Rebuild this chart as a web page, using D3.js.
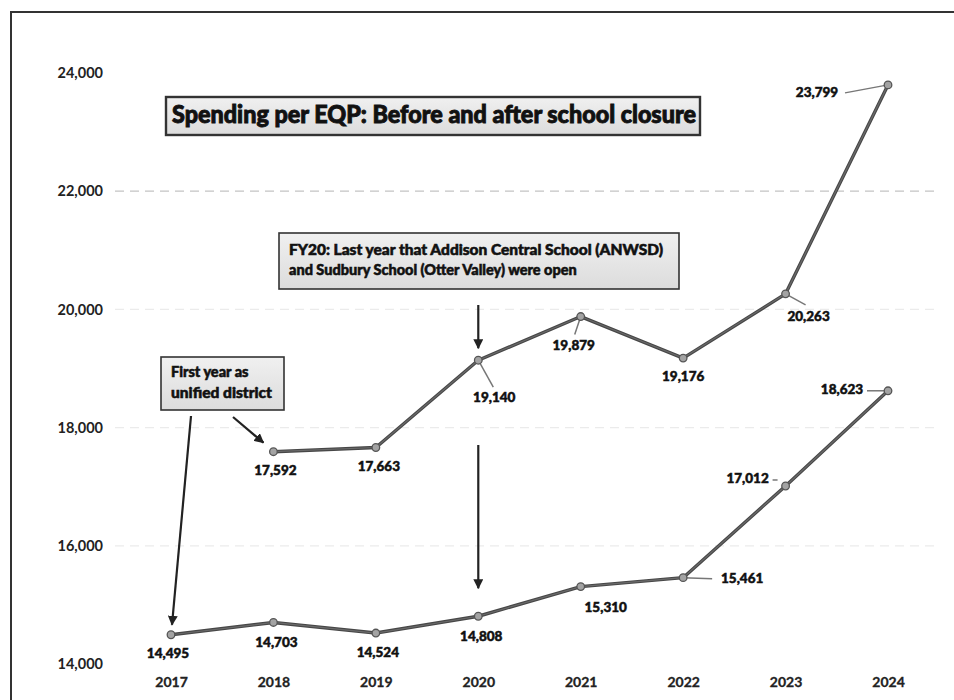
<!DOCTYPE html>
<html>
<head>
<meta charset="utf-8">
<script src="https://cdn.jsdelivr.net/npm/d3@7"></script>
<style>
  body { margin: 0; background: #fff; }
  svg { display: block; font-family: Lato, "Open Sans", sans-serif; }
</style>
</head>
<body>
<svg id="chart" width="954" height="700"></svg>
<script>
// Data
const years = [2017, 2018, 2019, 2020, 2021, 2022, 2023, 2024];
const afterClosure = [null, 17592, 17663, 19140, 19879, 19176, 20263, 23799];
const beforeClosure = [14495, 14703, 14524, 14808, 15310, 15461, 17012, 18623];
const yTicks = [14000, 16000, 18000, 20000, 22000, 24000];

const titleText = "Spending per EQP: Before and after school closure";
const fy20Lines = ["FY20: Last year that Addison Central School (ANWSD)", "and Sudbury School (Otter Valley) were open"];
const unifiedLines = ["First year as", "unified district"];

// label placement relative to each point: [dx, dy, leader end, leader start]
const upperLabelPos = [null, [2, 20], [3, 20], [16, 38, [15, 27]], [-7, 30, [-6, 18]], [0, 19], [23, 24, [20, 11]], [-71, 9, [-43, 8]]];
const lowerLabelPos = [[-3, 20], [3, 21], [2, 20], [3, 21], [25, 22], [59, 2, [29, 1]], [-38, -6, [-13, -6], [-8, -6]], [-46, 0, [-21, 0]]];

const svg = d3.select("#chart");

const x = d3.scalePoint().domain(years).range([171, 888]);
const y = d3.scaleLinear().domain([14000, 24000]).range([664, 73]);

// frame
svg.append("path")
   .attr("d", "M11,700 L11,12 L954,12")
   .attr("fill", "none")
   .attr("stroke", "#333")
   .attr("stroke-width", 2);

// gridlines
svg.append("g")
   .selectAll("line")
   .data(yTicks.filter(d => d > 14000 && d < 24000))
   .join("line")
   .attr("x1", 115)
   .attr("x2", 935)
   .attr("y1", d => y(d))
   .attr("y2", d => y(d))
   .attr("stroke", d => d === 22000 ? "#c4c4c4" : "#ebebeb")
   .attr("stroke-dasharray", "9 6")
   .attr("stroke-width", 1.2);

// y axis labels
const yAxis = d3.axisLeft(y).tickValues(yTicks).tickFormat(d3.format(",")).tickSize(0).tickPadding(0);
svg.append("g")
   .attr("transform", "translate(103,0)")
   .call(yAxis)
   .call(g => g.select(".domain").remove())
   .selectAll("text")
   .attr("font-family", "Lato, sans-serif")
   .attr("font-size", 14.5)
   .attr("font-weight", 700)
   .attr("fill", "#222");

// x axis labels
const xAxis = d3.axisBottom(x).tickSize(0).tickPadding(0).tickFormat(d3.format("d"));
svg.append("g")
   .attr("transform", "translate(0,677)")
   .call(xAxis)
   .call(g => g.select(".domain").remove())
   .selectAll("text")
   .attr("font-family", "Lato, sans-serif")
   .attr("font-size", 14)
   .attr("font-weight", 700)
   .attr("fill", "#222")
   .attr("stroke", "#222")
   .attr("stroke-width", 0.3);

const defs = svg.append("defs");
const grad = defs.append("linearGradient").attr("id", "boxFill").attr("x1", 0).attr("y1", 0).attr("x2", 0).attr("y2", 1);
grad.append("stop").attr("offset", "0%").attr("stop-color", "#f0f0f0");
grad.append("stop").attr("offset", "100%").attr("stop-color", "#dcdcdc");

const marker = defs.append("marker")
   .attr("id", "arrow")
   .attr("viewBox", "0 0 10 10")
   .attr("refX", 9).attr("refY", 5)
   .attr("markerWidth", 4.5).attr("markerHeight", 4.5)
   .attr("orient", "auto");
marker.append("path").attr("d", "M0,0 L10,5 L0,10 Z").attr("fill", "#222");

// boxes with text
function drawBox(x0, y0, w, h, lines, fontSize, lineGap, textX, firstY, strokeW, textStroke) {
  const g = svg.append("g");
  g.append("rect")
   .attr("x", x0).attr("y", y0)
   .attr("width", w).attr("height", h)
   .attr("fill", "url(#boxFill)")
   .attr("stroke", "#333")
   .attr("stroke-width", strokeW);
  lines.forEach((t, i) => {
    g.append("text")
     .attr("x", textX)
     .attr("y", firstY + i * lineGap)
     .attr("font-size", fontSize)
     .attr("font-weight", 900)
     .attr("fill", "#111")
     .attr("stroke", "#111")
     .attr("stroke-width", textStroke)
     .attr("dominant-baseline", "middle")
     .text(t);
  });
  return g;
}

const title = drawBox(166, 97, 534, 38, [titleText], 24, 0, 172, 117, 2.4, 0.9);
title.select("text").attr("textLength", 524).attr("lengthAdjust", "spacingAndGlyphs");

const fy20 = drawBox(279, 233, 400, 56, fy20Lines, 14.5, 20, 289, 251, 1.6, 0.55);
fy20.select("text").attr("textLength", 374).attr("lengthAdjust", "spacingAndGlyphs");

const unified = drawBox(161, 357, 123, 53, unifiedLines, 14.5, 21, 171, 373, 1.6, 0.55);
unified.selectAll("text").filter((d, i) => i === 1).attr("textLength", 101).attr("lengthAdjust", "spacingAndGlyphs");

// arrows
const arrows = [
  [191, 416, x(2017) + 1, y(beforeClosure[0]) - 10],
  [233, 417, x(2018) - 10, y(afterClosure[1]) - 9],
  [x(2020), 305, x(2020), y(afterClosure[3]) - 12],
  [x(2020), 445, x(2020), y(beforeClosure[3]) - 28]
];
svg.append("g")
   .selectAll("line")
   .data(arrows)
   .join("line")
   .attr("x1", d => d[0]).attr("y1", d => d[1])
   .attr("x2", d => d[2]).attr("y2", d => d[3])
   .attr("stroke", "#222")
   .attr("stroke-width", 2.2)
   .attr("marker-end", "url(#arrow)");

// series
function drawSeries(values, labelPos) {
  const pts = years.map((yr, i) => ({yr, v: values[i], pos: labelPos[i]})).filter(d => d.v != null);
  const g = svg.append("g");
  const line = d3.line().x(d => x(d.yr)).y(d => y(d.v));
  g.append("path")
   .datum(pts)
   .attr("d", line)
   .attr("fill", "none")
   .attr("stroke", "#474747")
   .attr("stroke-width", 3.4)
   .attr("stroke-linejoin", "round");
  g.append("path")
   .datum(pts)
   .attr("d", line)
   .attr("fill", "none")
   .attr("stroke", "#6a6a6a")
   .attr("stroke-width", 1.2);

  // leaders
  g.selectAll("line.leader")
   .data(pts.filter(d => d.pos[2]))
   .join("line")
   .attr("class", "leader")
   .attr("x1", d => x(d.yr) + (d.pos[3] ? d.pos[3][0] : 0))
   .attr("y1", d => y(d.v) + (d.pos[3] ? d.pos[3][1] : 0))
   .attr("x2", d => x(d.yr) + d.pos[2][0])
   .attr("y2", d => y(d.v) + d.pos[2][1])
   .attr("stroke", "#777")
   .attr("stroke-width", 1.5);

  g.selectAll("circle")
   .data(pts)
   .join("circle")
   .attr("cx", d => x(d.yr))
   .attr("cy", d => y(d.v))
   .attr("r", 3.8)
   .attr("fill", "#a3a3a3")
   .attr("stroke", "#555")
   .attr("stroke-width", 1.3);

  g.selectAll("text")
   .data(pts)
   .join("text")
   .attr("x", d => x(d.yr) + d.pos[0])
   .attr("y", d => y(d.v) + d.pos[1])
   .attr("text-anchor", "middle")
   .attr("dominant-baseline", "middle")
   .attr("font-size", 13.5)
   .attr("font-weight", 900)
   .attr("fill", "#111")
   .attr("stroke", "#111")
   .attr("stroke-width", 0.5)
   .text(d => d3.format(",")(d.v));
}

drawSeries(afterClosure, upperLabelPos);
drawSeries(beforeClosure, lowerLabelPos);
</script>
</body>
</html>
